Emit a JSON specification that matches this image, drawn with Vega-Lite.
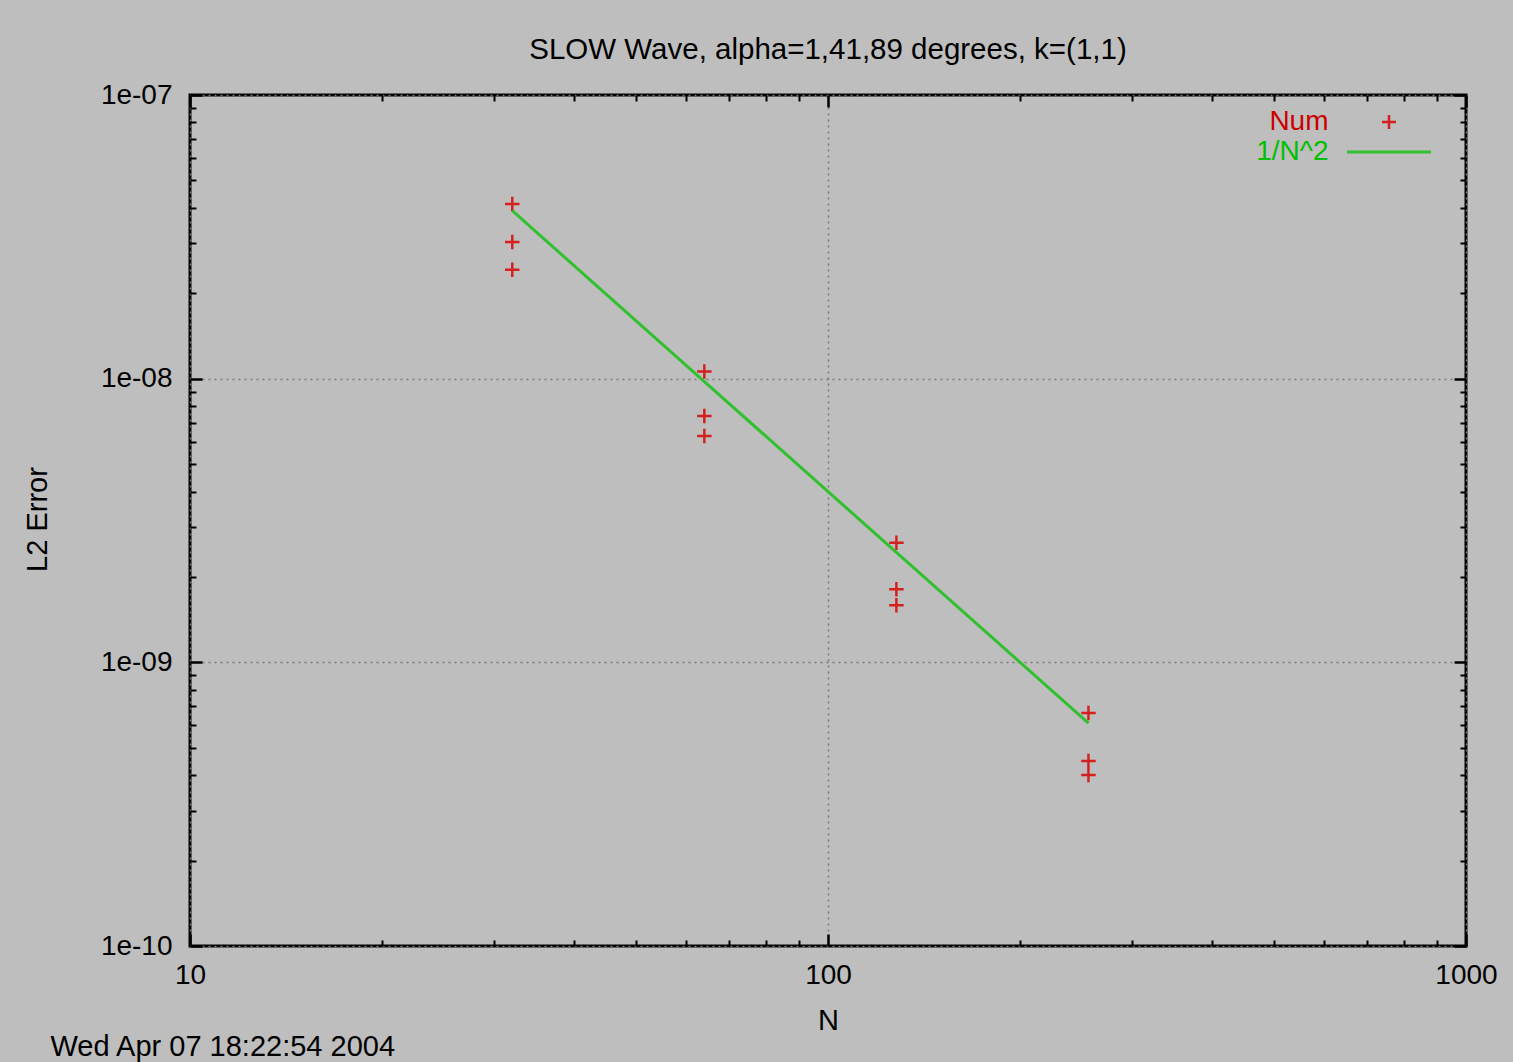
{
  "$schema": "https://vega.github.io/schema/vega-lite/v6.json",
  "width": 1276,
  "height": 851,
  "autosize": {"type": "none"},
  "padding": {"left": 190, "top": 95, "right": 47, "bottom": 116},
  "background": "#bebebe",
  "config": {
    "font": "Liberation Sans",
    "view": {"stroke": "black", "strokeWidth": 3, "fill": "#bebebe"},
    "axis": {
      "domain": false,
      "labelFont": "Liberation Sans",
      "labelFontSize": 28,
      "labelColor": "black",
      "labelFlush": false,
      "labelOverlap": false,
      "labelBound": false,
      "tickColor": "black",
      "titleFont": "Liberation Sans",
      "titleFontSize": 29,
      "titleFontWeight": "normal",
      "titleColor": "black"
    },
    "legend": {
      "orient": "none",
      "padding": 0,
      "labelFont": "Liberation Sans",
      "labelFontSize": 28,
      "labelAlign": "right",
      "labelOffset": -74.5,
      "labelLimit": 0,
      "symbolSize": 196
    }
  },
  "title": {
    "text": "SLOW Wave, alpha=1,41,89 degrees, k=(1,1)",
    "font": "Liberation Sans",
    "fontSize": 29.5,
    "fontWeight": "normal",
    "color": "black",
    "anchor": "middle",
    "baseline": "alphabetic",
    "offset": -7
  },
  "datasets": {
    "num": [
      {"N": 32, "err": 4.13e-8, "series": "Num"},
      {"N": 32, "err": 3.03e-8, "series": "Num"},
      {"N": 32, "err": 2.42e-8, "series": "Num"},
      {"N": 64, "err": 1.06e-8, "series": "Num"},
      {"N": 64, "err": 7.39e-9, "series": "Num"},
      {"N": 64, "err": 6.28e-9, "series": "Num"},
      {"N": 128, "err": 2.64e-9, "series": "Num"},
      {"N": 128, "err": 1.81e-9, "series": "Num"},
      {"N": 128, "err": 1.59e-9, "series": "Num"},
      {"N": 256, "err": 6.63e-10, "series": "Num"},
      {"N": 256, "err": 4.49e-10, "series": "Num"},
      {"N": 256, "err": 4.01e-10, "series": "Num"}
    ],
    "ref": [
      {"N": 32, "err": 3.91e-8, "series": "1/N^2"},
      {"N": 64, "err": 9.77e-9, "series": "1/N^2"},
      {"N": 128, "err": 2.44e-9, "series": "1/N^2"},
      {"N": 256, "err": 6.1e-10, "series": "1/N^2"}
    ]
  },
  "resolve": {"axis": {"x": "independent", "y": "independent"}},
  "layer": [
    {
      "data": {"name": "num"},
      "mark": {"type": "point", "shape": "M-1,0H1M0,-1V1", "filled": false, "strokeWidth": 2.5, "size": 210, "opacity": 1},
      "encoding": {
        "x": {
          "field": "N", "type": "quantitative",
          "scale": {"type": "log", "domain": [10, 1000], "nice": false},
          "axis": {
            "orient": "bottom", "values": [10, 100, 1000], "format": "d",
            "tickSize": -12, "tickWidth": 2.5, "labelPadding": 27,
            "grid": true, "gridDash": [2, 4], "gridColor": "#7a7a7a", "gridWidth": 1.5,
            "title": "N", "titleX": 638, "titleY": 83, "titleAlign": "center", "titleBaseline": "alphabetic"
          }
        },
        "y": {
          "field": "err", "type": "quantitative",
          "scale": {"type": "log", "domain": [1e-10, 1e-7], "nice": false},
          "axis": {
            "orient": "left", "values": [1e-10, 1e-9, 1e-8, 1e-7],
            "labelExpr": "datum.value < 3e-10 ? '1e-10' : datum.value < 3e-9 ? '1e-09' : datum.value < 3e-8 ? '1e-08' : '1e-07'",
            "tickSize": -12, "tickWidth": 2.5, "labelPadding": 30,
            "grid": true, "gridDash": [2, 4], "gridColor": "#7a7a7a", "gridWidth": 1.5,
            "title": "L2 Error", "titleX": -144, "titleY": 424, "titleAngle": 270, "titleAlign": "center", "titleBaseline": "alphabetic"
          }
        },
        "color": {
          "field": "series", "type": "nominal",
          "scale": {"domain": ["Num"], "range": ["#d42020"]},
          "legend": {
            "legendX": 1185, "legendY": 13, "title": null,
            "symbolType": "M-1,0H1M0,-1V1", "symbolStrokeWidth": 2.5,
            "labelColor": "#cc0000"
          }
        }
      }
    },
    {
      "data": {"name": "ref"},
      "mark": {"type": "line", "strokeWidth": 3},
      "encoding": {
        "x": {"field": "N", "type": "quantitative",
          "axis": {"orient": "top", "values": [10, 100, 1000], "labels": false, "grid": false, "tickSize": -12, "tickWidth": 2.5, "title": null}},
        "y": {"field": "err", "type": "quantitative",
          "axis": {"orient": "right", "values": [1e-10, 1e-9, 1e-8, 1e-7], "labels": false, "grid": false, "tickSize": -12, "tickWidth": 2.5, "title": null}},
        "stroke": {
          "field": "series", "type": "nominal",
          "scale": {"domain": ["1/N^2"], "range": ["#30c030"]},
          "legend": {
            "legendX": 1185, "legendY": 43, "title": null,
            "symbolType": "M-6,0H6", "symbolStrokeWidth": 3,
            "labelColor": "#00c000"
          }
        }
      }
    },
    {
      "data": {"name": "ref"},
      "mark": {"type": "point", "opacity": 0},
      "encoding": {
        "x": {"field": "N", "type": "quantitative",
          "axis": {"orient": "bottom", "values": [20, 30, 40, 50, 60, 70, 80, 90, 200, 300, 400, 500, 600, 700, 800, 900],
            "labels": false, "grid": false, "tickSize": -6, "tickWidth": 2,
            "title": "Wed Apr 07 18:22:54 2004", "titleX": -140, "titleY": 109, "titleAlign": "left", "titleBaseline": "alphabetic", "titleAngle": 0}},
        "y": {"field": "err", "type": "quantitative",
          "axis": {"orient": "left", "values": [2e-10, 3e-10, 4e-10, 5e-10, 6e-10, 7e-10, 8e-10, 9e-10, 2e-9, 3e-9, 4e-9, 5e-9, 6e-9, 7e-9, 8e-9, 9e-9, 2e-8, 3e-8, 4e-8, 5e-8, 6e-8, 7e-8, 8e-8, 9e-8],
            "labels": false, "grid": false, "tickSize": -6, "tickWidth": 2, "title": null}}
      }
    },
    {
      "data": {"name": "ref"},
      "mark": {"type": "point", "opacity": 0},
      "encoding": {
        "x": {"field": "N", "type": "quantitative",
          "axis": {"orient": "top", "values": [20, 30, 40, 50, 60, 70, 80, 90, 200, 300, 400, 500, 600, 700, 800, 900],
            "labels": false, "grid": false, "tickSize": -6, "tickWidth": 2, "title": null}},
        "y": {"field": "err", "type": "quantitative",
          "axis": {"orient": "right", "values": [2e-10, 3e-10, 4e-10, 5e-10, 6e-10, 7e-10, 8e-10, 9e-10, 2e-9, 3e-9, 4e-9, 5e-9, 6e-9, 7e-9, 8e-9, 9e-9, 2e-8, 3e-8, 4e-8, 5e-8, 6e-8, 7e-8, 8e-8, 9e-8],
            "labels": false, "grid": false, "tickSize": -6, "tickWidth": 2, "title": null}}
      }
    }
  ]
}
